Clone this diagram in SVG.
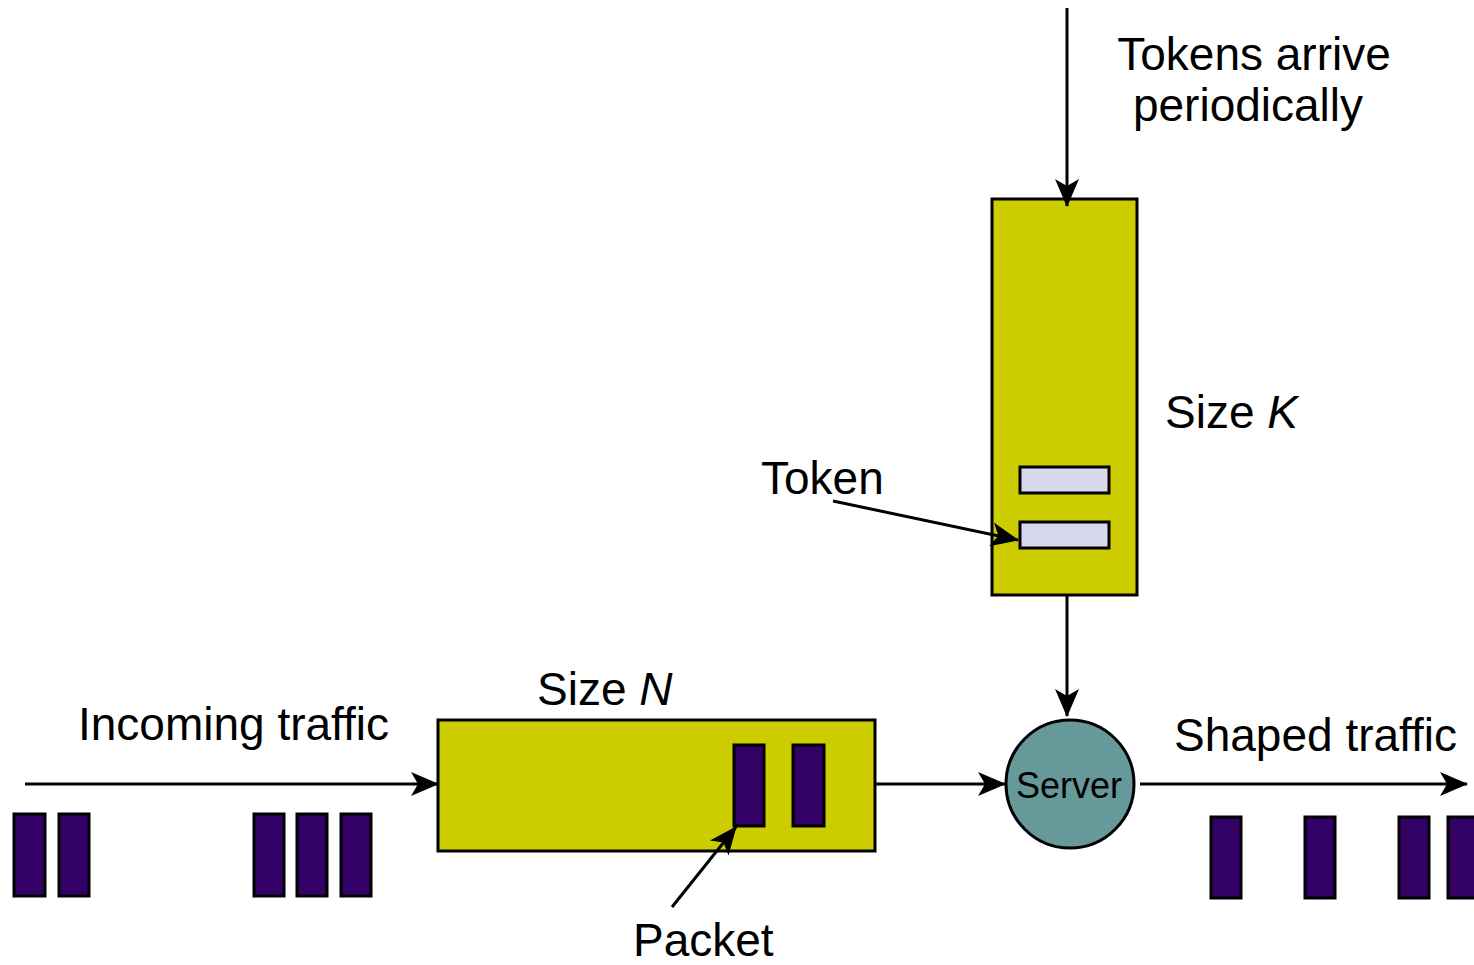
<svg xmlns="http://www.w3.org/2000/svg" width="1474" height="965" viewBox="0 0 1474 965">
<style>
.t{font-family:"Liberation Sans",Arial,sans-serif;font-size:46px;fill:#000}
.ln{stroke:#000;stroke-width:3;fill:none}
.box{fill:#cccc00;stroke:#000;stroke-width:3}
.pk{fill:#330066;stroke:#000;stroke-width:3}
.tk{fill:#d8d8ec;stroke:#000;stroke-width:3}
</style>
<defs>
<marker id="ah" viewBox="0 0 28 24" refX="27" refY="12" markerWidth="28" markerHeight="24" markerUnits="userSpaceOnUse" orient="auto">
<path d="M0,0 L28,12 L0,24 L7,12 Z" fill="#000"/>
</marker>
</defs>
<rect width="1474" height="965" fill="#fff"/>
<g id="bucket">
<rect class="box" x="992" y="199" width="145" height="396"/>
<rect class="tk" x="1020" y="467" width="89" height="26"/>
<rect class="tk" x="1020" y="522" width="89" height="26"/>
</g>
<g id="queue">
<rect class="box" x="438" y="720" width="437" height="131"/>
<rect class="pk" x="734" y="745" width="30" height="81"/>
<rect class="pk" x="793" y="745" width="31" height="81"/>
</g>
<g id="server">
<circle cx="1070" cy="784" r="64" fill="#669999" stroke="#000" stroke-width="3"/>
<text class="t" x="1069" y="798" text-anchor="middle" style="font-size:36px">Server</text>
</g>
<g id="incoming">
<rect class="pk" x="14" y="814" width="31" height="82"/>
<rect class="pk" x="59" y="814" width="30" height="82"/>
<rect class="pk" x="254" y="814" width="30" height="82"/>
<rect class="pk" x="297" y="814" width="30" height="82"/>
<rect class="pk" x="341" y="814" width="30" height="82"/>
</g>
<g id="shaped">
<rect class="pk" x="1211" y="817" width="30" height="81"/>
<rect class="pk" x="1305" y="817" width="30" height="81"/>
<rect class="pk" x="1399" y="817" width="30" height="81"/>
<rect class="pk" x="1448" y="817" width="30" height="81"/>
</g>
<g id="connectors">
<line class="ln" x1="1067" y1="8" x2="1067" y2="206" marker-end="url(#ah)"/>
<line class="ln" x1="1067" y1="596" x2="1067" y2="716" marker-end="url(#ah)"/>
<line class="ln" x1="25" y1="784" x2="438" y2="784" marker-end="url(#ah)"/>
<line class="ln" x1="876" y1="784" x2="1005" y2="784" marker-end="url(#ah)"/>
<line class="ln" x1="1140" y1="784" x2="1467" y2="784" marker-end="url(#ah)"/>
<line class="ln" x1="833" y1="501" x2="1018" y2="540" marker-end="url(#ah)"/>
<line class="ln" x1="672" y1="907" x2="736" y2="827" marker-end="url(#ah)"/>
</g>
<g id="labels">
<text class="t" x="1254" y="70" text-anchor="middle">Tokens arrive</text>
<text class="t" x="1248" y="121" text-anchor="middle">periodically</text>
<text class="t" x="1165" y="428">Size <tspan font-style="italic">K</tspan></text>
<text class="t" x="761" y="494">Token</text>
<text class="t" x="537" y="705">Size <tspan font-style="italic">N</tspan></text>
<text class="t" x="78" y="740">Incoming traffic</text>
<text class="t" x="1174" y="751">Shaped traffic</text>
<text class="t" x="633" y="956">Packet</text>
</g>
</svg>
